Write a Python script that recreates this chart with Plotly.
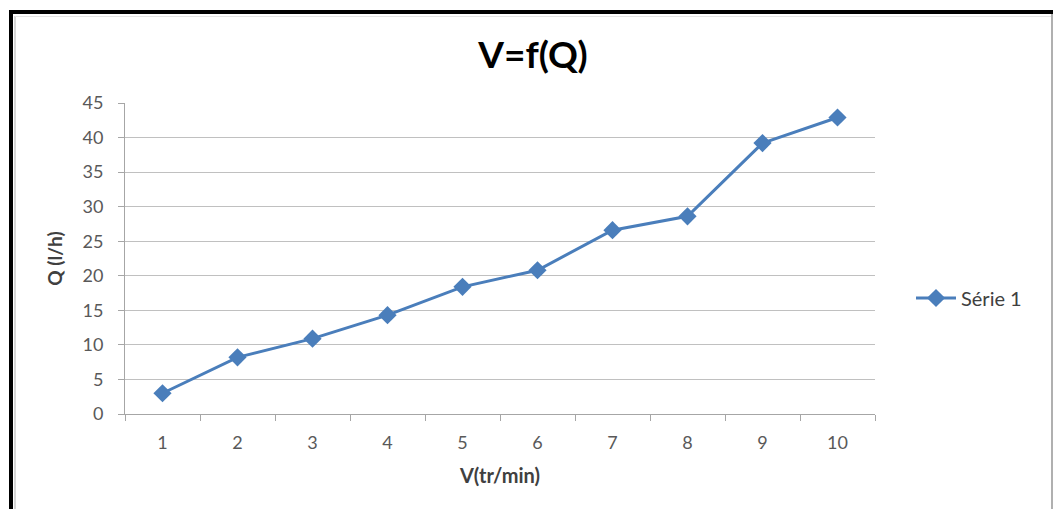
import plotly.graph_objects as go

categories = ["1", "2", "3", "4", "5", "6", "7", "8", "9", "10"]
q_values = [3.0, 8.2, 10.9, 14.3, 18.4, 20.8, 26.6, 28.6, 39.2, 42.9]
series_name = "Série 1"
title_text = "V=f(Q)"
x_title = "V(tr/min)"
y_title = "Q (l/h)"

W, H = 1054, 509
L, R, T, B = 125, 875, 103, 414

def px(x):
    return (x - L) / (R - L)

def py(y):
    return (B - y) / (B - T)

FONT = "Lato, Carlito, Calibri, sans-serif"

fig = go.Figure()
fig.add_trace(go.Scatter(
    x=categories, y=q_values, name=series_name,
    mode="lines+markers",
    line=dict(color="#4a7ebb", width=3),
    marker=dict(symbol="diamond", size=14, color="#4a7ebb"),
))

shapes = [
    dict(type="line", xref="paper", yref="paper", x0=px(11), x1=px(11), y0=py(10), y1=py(520),
         line=dict(color="#000000", width=4)),
    dict(type="line", xref="paper", yref="paper", x0=px(9), x1=px(1053), y0=py(12), y1=py(12),
         line=dict(color="#000000", width=4)),
    dict(type="line", xref="paper", yref="paper", x0=px(15), x1=px(15), y0=py(16), y1=py(520),
         line=dict(color="#c8c8c8", width=1.5)),
    dict(type="line", xref="paper", yref="paper", x0=px(15), x1=px(1051), y0=py(16.5), y1=py(16.5),
         line=dict(color="#e4e4e4", width=1)),
    dict(type="line", xref="paper", yref="paper", x0=px(1052), x1=px(1052), y0=py(14), y1=py(520),
         line=dict(color="#b0b0b0", width=2)),
]

fig.update_layout(
    width=W, height=H,
    margin=dict(l=L, r=W - R, t=T, b=H - B),
    paper_bgcolor="white", plot_bgcolor="white",
    font=dict(family=FONT, color="#595959", size=18),
    title=dict(text="<b>" + title_text + "</b>", x=(533) / W, xanchor="center",
               y=1 - 55 / H, yanchor="middle",
               font=dict(family=FONT, size=37, color="#000000")),
    showlegend=True,
    legend=dict(x=px(911), y=py(298), xanchor="left", yanchor="middle",
                font=dict(family=FONT, size=20, color="#404040"),
                bgcolor="rgba(0,0,0,0)", itemwidth=40),
    shapes=shapes,
    xaxis=dict(
        type="category", range=[-0.5, 9.5], tickson="boundaries",
        ticks="outside", ticklen=6, ticklabelstandoff=12,
        tickcolor="#a6a6a6", showline=True, linecolor="#a6a6a6", linewidth=1,
        showgrid=False, zeroline=False,
        tickfont=dict(family=FONT, size=18, color="#595959"),
        title=dict(text="<b>" + x_title + "</b>", standoff=17,
                   font=dict(family=FONT, size=20, color="#404040")),
    ),
    yaxis=dict(
        range=[0, 45], dtick=5, tick0=0, ticks="outside", ticklen=6,
        ticklabelstandoff=11,
        tickcolor="#a6a6a6", showline=True, linecolor="#a6a6a6", linewidth=1,
        showgrid=True, gridcolor="#c0c0c0", gridwidth=1, zeroline=False,
        tickfont=dict(family=FONT, size=18, color="#595959"),
        title=dict(text="<b>" + y_title + "</b>", standoff=14,
                   font=dict(family=FONT, size=19, color="#404040")),
    ),
)

fig.write_html("out.html")
